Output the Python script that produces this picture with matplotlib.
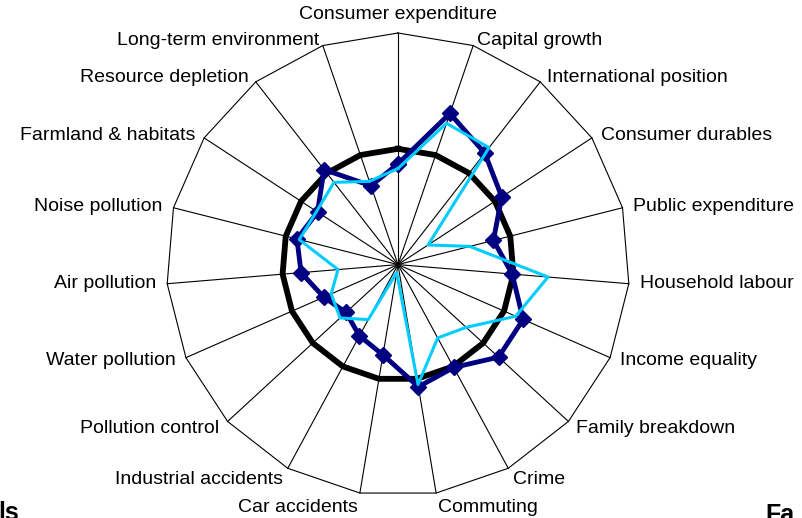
import numpy as np
import matplotlib
matplotlib.use('Agg')
import matplotlib.pyplot as plt

plt.rcParams['font.family'] = ['Liberation Sans', 'DejaVu Sans']

categories = ['Consumer expenditure', 'Capital growth', 'International position',
              'Consumer durables', 'Public expenditure', 'Household labour',
              'Income equality', 'Family breakdown', 'Crime', 'Commuting',
              'Car accidents', 'Industrial accidents', 'Pollution control',
              'Water pollution', 'Air pollution', 'Noise pollution',
              'Farmland & habitats', 'Resource depletion', 'Long-term environment']
baseline = [100] * 19
series_dark = [87, 138, 122, 107, 85, 99, 118, 118, 101, 107,
               79, 70, 61, 70, 84, 90, 83, 104, 72]
series_light = [83, 129, 128, 31, 64, 130, 111, 80, 72, 105,
                7, 54, 68, 63, 52, 88, 84, 90, 76]
r_max = 200

n = len(categories)
theta = np.arange(n) * 2 * np.pi / n
theta_c = np.append(theta, theta[0])


def closed(v):
    return np.append(v, v[0])


fig = plt.figure(figsize=(8.02, 5.18), dpi=100)
cx, cy, R = 398, 264.6, 231.6
W, H = 802, 518
ax = fig.add_axes([(cx - R) / W, (H - cy - R) / H, 2 * R / W, 2 * R / H], projection='polar')
ax.set_theta_offset(np.pi / 2)
ax.set_theta_direction(-1)
ax.set_ylim(0, r_max)
ax.grid(False)
ax.set_xticks([])
ax.set_yticks([])
ax.spines['polar'].set_visible(False)
ax.patch.set_visible(False)

# spokes and outer frame
for t in theta:
    ax.plot([t, t], [0, r_max], color='black', lw=0.8, clip_on=False)
ax.plot(theta_c, [r_max] * (n + 1), color='black', lw=0.8, clip_on=False)

ax.plot(theta_c, closed(baseline), color='black', lw=4.2, clip_on=False)
ax.plot(theta_c, closed(series_dark), color='#000080', lw=3.5, marker='D', ms=8.5,
        clip_on=False)
ax.plot(theta_c, closed(series_light), color='#00CCFF', lw=2.2, clip_on=False)

# category labels
for t, lab in zip(theta, categories):
    s, c = np.sin(t), np.cos(t)
    if abs(s) < 0.05:
        ha, dx = 'center', 0
        dy = 19 if c > 0 else -19
    else:
        ha = 'left' if s > 0 else 'right'
        dx = 11 * s
        dy = 5 * c if c > 0 else -15 * c * c
    ax.annotate(lab, xy=(t, r_max), xytext=(dx, dy), textcoords='offset pixels',
                ha=ha, va='center', fontsize=14, color='black',
                annotation_clip=False)

# neighbouring chart titles, cut off at the bottom edge as in the original
fig.text(-2 / W, 1 - 501 / H, 'ls', ha='left', va='top', fontsize=18, fontweight='bold')
fig.text(765 / W, 1 - 503 / H, 'Fa', ha='left', va='top', fontsize=18, fontweight='bold')

fig.savefig('out.png', dpi=100)
